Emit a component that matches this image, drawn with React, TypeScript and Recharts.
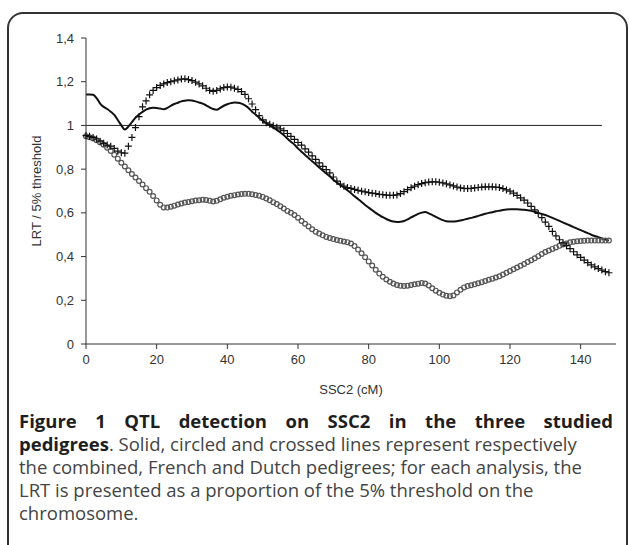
import React from 'react';
import { LineChart, Line, XAxis, YAxis, ReferenceLine, Label } from 'recharts';

// SSC2 positions (cM), one reading per cM
const positions = Array.from({ length: 149 }, (_, i) => i);

// combined pedigrees (solid line)
const combined = [
  1.141, 1.141, 1.14, 1.125, 1.1, 1.085, 1.075, 1.063, 1.048, 1.025,
  1.0, 0.981, 0.995, 1.015, 1.035, 1.05, 1.062, 1.072, 1.079, 1.081,
  1.08, 1.077, 1.074, 1.08, 1.09, 1.098, 1.104, 1.11, 1.113, 1.115,
  1.114, 1.11, 1.105, 1.1, 1.092, 1.083, 1.075, 1.072, 1.08, 1.09,
  1.097, 1.102, 1.105, 1.104, 1.1, 1.092, 1.08, 1.063, 1.05, 1.035,
  1.022, 1.011, 1.0, 0.99, 0.98, 0.968, 0.955, 0.94, 0.925, 0.912,
  0.895, 0.88, 0.865, 0.851, 0.836, 0.822, 0.808, 0.794, 0.78, 0.767,
  0.752, 0.739, 0.727, 0.716, 0.703, 0.69, 0.676, 0.663, 0.65, 0.636,
  0.624, 0.612, 0.6, 0.59, 0.58, 0.572, 0.565, 0.56, 0.558, 0.559,
  0.563, 0.57, 0.579, 0.587, 0.595, 0.601, 0.604, 0.598, 0.59, 0.582,
  0.574, 0.567, 0.562, 0.56, 0.56, 0.562, 0.565, 0.569, 0.573, 0.577,
  0.581, 0.586, 0.591, 0.596, 0.6, 0.603, 0.607, 0.61, 0.613, 0.615,
  0.616, 0.616, 0.616, 0.615, 0.614, 0.612, 0.609, 0.605, 0.6, 0.595,
  0.59, 0.584, 0.577, 0.57, 0.563, 0.556, 0.549, 0.542, 0.535, 0.528,
  0.521, 0.514, 0.507, 0.5, 0.494, 0.489, 0.483, 0.478, 0.473,
];

// French pedigrees (circles)
const french = [
  0.95, 0.946, 0.94, 0.932, 0.922, 0.912, 0.898, 0.883, 0.866, 0.848,
  0.829, 0.812, 0.795, 0.778, 0.762, 0.746, 0.73, 0.713, 0.696, 0.677,
  0.657, 0.637, 0.625, 0.624, 0.628, 0.633, 0.638, 0.643, 0.647, 0.65,
  0.653, 0.656, 0.658, 0.66, 0.659, 0.655, 0.652, 0.655, 0.662, 0.669,
  0.674, 0.678, 0.681, 0.684, 0.686, 0.687, 0.687, 0.685, 0.682, 0.678,
  0.673, 0.666, 0.658, 0.649, 0.64, 0.63, 0.62, 0.609, 0.6, 0.59,
  0.578, 0.563, 0.55, 0.538, 0.525, 0.514, 0.505, 0.497, 0.49, 0.485,
  0.48, 0.476, 0.472, 0.469, 0.466, 0.46, 0.448, 0.432, 0.415, 0.397,
  0.378, 0.359, 0.34, 0.322, 0.308, 0.295, 0.285, 0.277, 0.27, 0.266,
  0.265, 0.267, 0.27, 0.273, 0.276, 0.279, 0.277, 0.268, 0.255, 0.244,
  0.234, 0.226, 0.221, 0.219, 0.222, 0.236, 0.248, 0.259, 0.265, 0.269,
  0.273, 0.278, 0.283, 0.288, 0.294, 0.299, 0.304, 0.31, 0.318, 0.326,
  0.334, 0.342, 0.35, 0.358, 0.366, 0.375, 0.383, 0.392, 0.402, 0.412,
  0.421, 0.428, 0.435, 0.442, 0.449, 0.455, 0.46, 0.465, 0.468, 0.47,
  0.471, 0.472, 0.473, 0.473, 0.473, 0.473, 0.473, 0.473, 0.473,
];

// Dutch pedigrees (crosses)
const dutch = [
  0.953, 0.95, 0.945, 0.938, 0.928, 0.918, 0.91, 0.905, 0.895, 0.882,
  0.875, 0.873, 0.905, 0.945, 0.99, 1.04, 1.085, 1.112, 1.14, 1.16,
  1.173, 1.183, 1.19, 1.196, 1.2, 1.204, 1.208, 1.212, 1.213, 1.21,
  1.205, 1.198, 1.19, 1.181, 1.17, 1.16, 1.156, 1.16, 1.167, 1.173,
  1.176, 1.175, 1.17, 1.165, 1.155, 1.142, 1.122, 1.098, 1.072, 1.045,
  1.025, 1.012, 1.005, 0.999, 0.992, 0.984, 0.976, 0.963, 0.95, 0.936,
  0.922, 0.91, 0.893, 0.878, 0.861, 0.845, 0.829, 0.813, 0.798, 0.783,
  0.764, 0.745, 0.731, 0.722, 0.716, 0.712, 0.707, 0.703, 0.699, 0.696,
  0.693, 0.69, 0.688, 0.685, 0.683, 0.681, 0.68, 0.68, 0.682, 0.688,
  0.697, 0.706, 0.715, 0.722, 0.729, 0.734, 0.738, 0.741, 0.742, 0.742,
  0.74, 0.737, 0.733, 0.728, 0.723, 0.718, 0.714, 0.712, 0.711, 0.712,
  0.714, 0.716, 0.718, 0.719, 0.719, 0.719, 0.718, 0.716, 0.711, 0.705,
  0.699, 0.69, 0.68, 0.669, 0.658, 0.645, 0.63, 0.614, 0.597, 0.578,
  0.558, 0.538, 0.515, 0.495, 0.477, 0.463, 0.45, 0.436, 0.422, 0.408,
  0.396, 0.384, 0.372, 0.362, 0.353, 0.345, 0.338, 0.331, 0.326,
];

const xTicks = [0, 20, 40, 60, 80, 100, 120, 140];
const yTicks = [0, 0.2, 0.4, 0.6, 0.8, 1, 1.2, 1.4];
// 5% threshold line
const thresholdValue = 1;
const thresholdEnd = 146;

const data = positions.map((x, i) => ({
  x,
  combined: combined[i],
  french: french[i],
  dutch: dutch[i],
}));

const axisFont = { fontSize: 13, fill: '#333', fontFamily: '"Liberation Sans", Arial, sans-serif' };

const PlusDot = (props: any) => {
  const { cx, cy } = props;
  if (cx == null || cy == null) return <g />;
  return (
    <path
      d={`M${cx - 3.5},${cy}H${cx + 3.5}M${cx},${cy - 3.5}V${cy + 3.5}`}
      stroke="#111"
      strokeWidth={1.2}
      fill="none"
    />
  );
};

export default function App() {
  return (
    <div
      style={{
        position: 'fixed',
        left: 0,
        top: 0,
        width: 629,
        height: 545,
        overflow: 'hidden',
        background: '#fff',
      }}
    >
      {/* figure frame */}
      <div
        style={{
          position: 'absolute',
          left: 7,
          top: 12,
          width: 621,
          height: 560,
          boxSizing: 'border-box',
          border: '2px solid #333',
          borderRadius: 16,
        }}
      />

      <div style={{ position: 'absolute', left: 0, top: 0 }}>
        <LineChart
          width={629}
          height={399}
          data={data}
          margin={{ top: 38, right: 13, bottom: 0, left: 46 }}
        >
          <XAxis
            dataKey="x"
            type="number"
            domain={[0, 150]}
            ticks={xTicks}
            height={55}
            tick={axisFont}
            tickSize={5}
            tickMargin={6}
            stroke="#333"
          >
            <Label value="SSC2 (cM)" position="insideBottom" offset={5} style={axisFont} />
          </XAxis>
          <YAxis
            type="number"
            domain={[0, 1.4]}
            ticks={yTicks}
            width={40}
            tick={axisFont}
            tickSize={5}
            tickMargin={7}
            stroke="#333"
            tickFormatter={(v: number) => String(v).replace('.', ',')}
            label={{
              content: () => (
                <text
                  x={38}
                  y={191}
                  transform="rotate(-90 38 191)"
                  textAnchor="middle"
                  dominantBaseline="middle"
                  style={axisFont}
                >
                  LRT / 5% threshold
                </text>
              ),
            }}
          />
          <ReferenceLine
            segment={[
              { x: 0, y: thresholdValue },
              { x: thresholdEnd, y: thresholdValue },
            ]}
            stroke="#222"
            strokeWidth={1}
          />
          <Line
            dataKey="french"
            stroke="none"
            dot={{ r: 2.4, stroke: '#555', strokeWidth: 1.2, fill: 'none' }}
            isAnimationActive={false}
          />
          <Line
            dataKey="dutch"
            stroke="none"
            dot={(p: any) => <PlusDot key={`p-${p.index}`} {...p} />}
            isAnimationActive={false}
          />
          <Line
            dataKey="combined"
            type="monotone"
            stroke="#111"
            strokeWidth={2}
            dot={false}
            isAnimationActive={false}
          />
        </LineChart>
      </div>

      {/* caption */}
      <div
        style={{
          position: 'absolute',
          left: 19,
          top: 409,
          width: 594,
          fontFamily: '"Open Sans", "Noto Sans", sans-serif',
          fontSize: 18.5,
          lineHeight: '23px',
          color: '#444',
        }}
      >
        <div style={{ textAlign: 'justify', textAlignLast: 'justify', fontWeight: 700, color: '#1e1e1e' }}>
          Figure 1 QTL detection on SSC2 in the three studied
        </div>
        <div>
          <b style={{ color: '#1e1e1e' }}>pedigrees</b>. Solid, circled and crossed lines represent respectively
          <br />
          the combined, French and Dutch pedigrees; for each analysis, the
          <br />
          LRT is presented as a proportion of the 5% threshold on the
          <br />
          chromosome.
        </div>
      </div>
    </div>
  );
}
